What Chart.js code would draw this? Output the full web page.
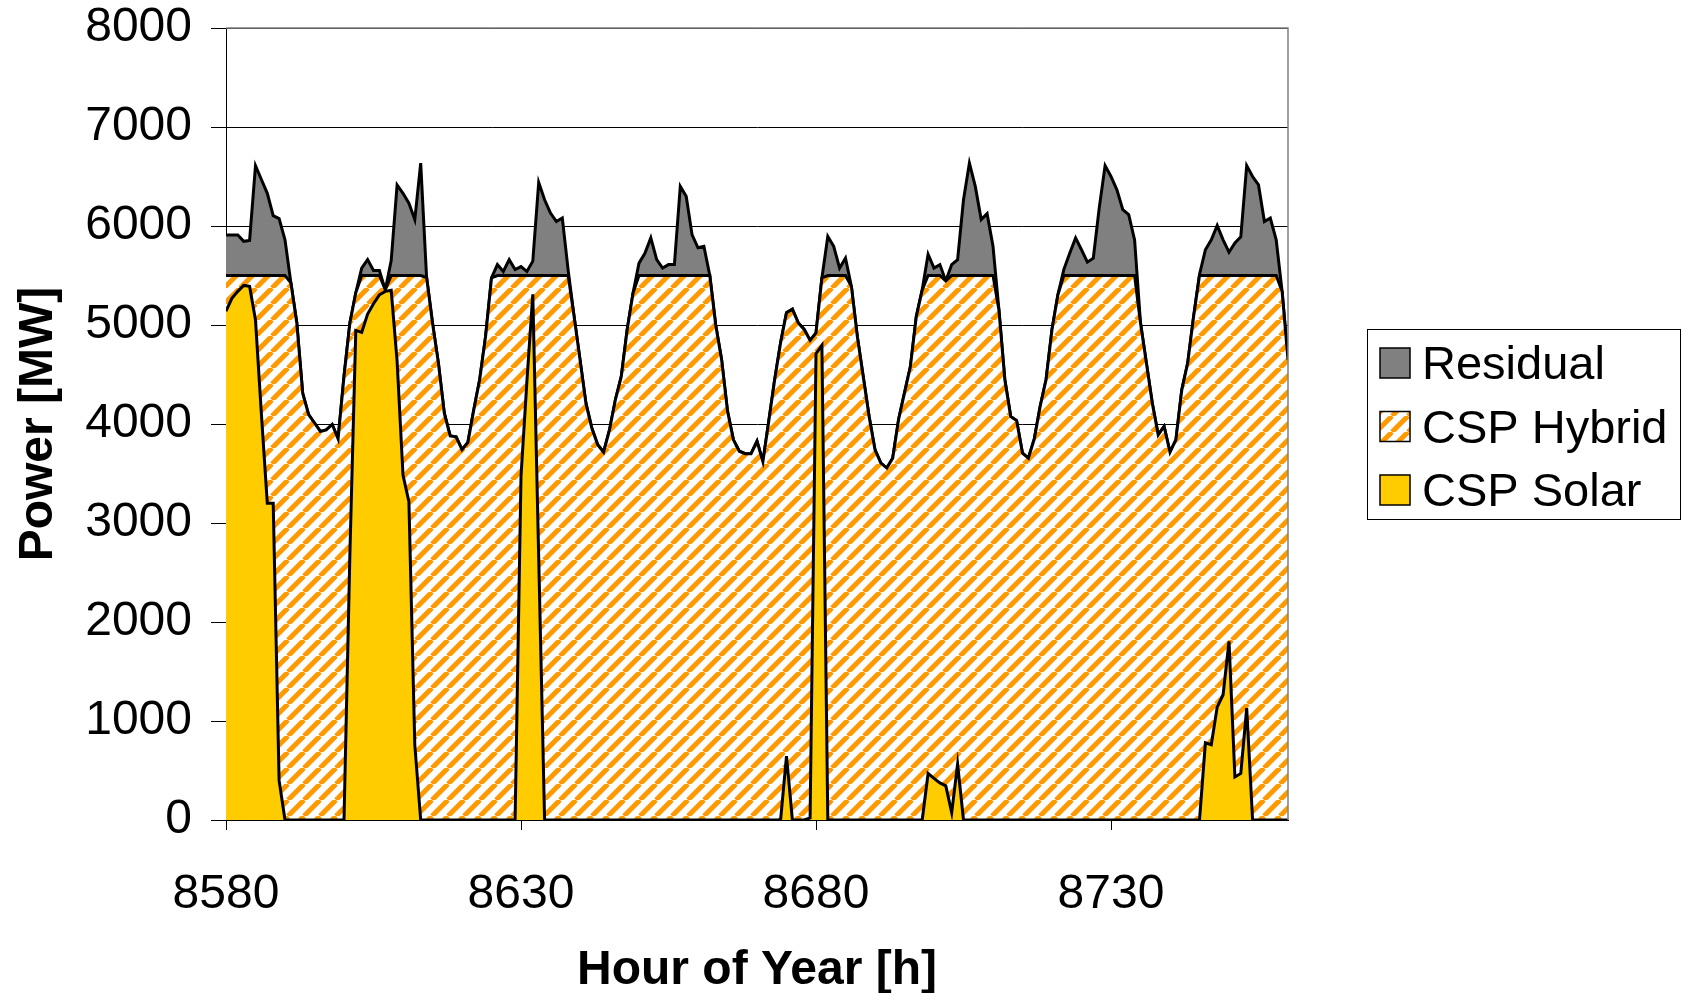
<!DOCTYPE html>
<html>
<head>
<meta charset="utf-8">
<script src="https://cdn.jsdelivr.net/npm/chart.js@4.4.0/dist/chart.umd.min.js"></script>
<style>
  body { margin: 0; background: #fff; }
  canvas { display: block; }
</style>
</head>
<body>
<canvas id="powerChart" width="1686" height="993"></canvas>
<script>
let startHour = 8580
let hours = Array.from({ length: 181 }, (_, i) => startHour + i)
let xTicks = [8580, 8630, 8680, 8730]

// total load (top of grey area), MW
let load = [
    5910, 5910, 5910, 5845, 5855, 6610, 6470, 6330, 6105, 6075,
    5860, 5425, 5020, 4310, 4095, 4010, 3925, 3940, 3995, 3850,
    4480, 5020, 5325, 5575, 5660, 5550, 5550, 5355, 5650, 6415,
    6330, 6230, 6065, 6635, 5480, 5020, 4615, 4110, 3880, 3870,
    3740, 3815, 4145, 4450, 4885, 5475, 5610, 5540, 5660, 5560,
    5590, 5540, 5645, 6440, 6265, 6130, 6045, 6080, 5550, 5085,
    4650, 4210, 3960, 3790, 3715, 3940, 4245, 4480, 4955, 5325,
    5625, 5725, 5880, 5660, 5575, 5610, 5610, 6400, 6300, 5910,
    5780, 5795, 5500, 5000, 4650, 4130, 3840, 3725, 3700, 3700,
    3825, 3620, 4030, 4450, 4820, 5125, 5160, 5020, 4955, 4845,
    4920, 5475, 5895, 5795, 5575, 5675, 5390, 4885, 4480, 4075,
    3740, 3605, 3555, 3655, 4045, 4315, 4580, 5085, 5355, 5715,
    5575, 5610, 5445, 5610, 5660, 6265, 6635, 6400, 6065, 6125,
    5795, 5155, 4450, 4075, 4035, 3705, 3655, 3850, 4180, 4450,
    4955, 5305, 5560, 5725, 5880, 5760, 5635, 5675, 6180, 6610,
    6500, 6365, 6165, 6115, 5860, 5020, 4615, 4210, 3890, 3975,
    3715, 3840, 4345, 4615, 5085, 5510, 5760, 5860, 6005, 5860,
    5735, 5830, 5890, 6610, 6500, 6415, 6045, 6080, 5860, 5340,
    4650
]

// top of the CSP (hatched) area, MW
let cspTop = [
    5500, 5500, 5500, 5500, 5500, 5500, 5500, 5500, 5500, 5500,
    5500, 5425, 5020, 4310, 4095, 4010, 3925, 3940, 3995, 3850,
    4480, 5020, 5325, 5500, 5500, 5500, 5500, 5355, 5500, 5500,
    5500, 5500, 5500, 5500, 5480, 5020, 4615, 4110, 3880, 3870,
    3740, 3815, 4145, 4450, 4885, 5475, 5500, 5500, 5500, 5500,
    5500, 5500, 5500, 5500, 5500, 5500, 5500, 5500, 5500, 5085,
    4650, 4210, 3960, 3790, 3715, 3940, 4245, 4480, 4955, 5325,
    5500, 5500, 5500, 5500, 5500, 5500, 5500, 5500, 5500, 5500,
    5500, 5500, 5500, 5000, 4650, 4130, 3840, 3725, 3700, 3700,
    3825, 3620, 4030, 4450, 4820, 5125, 5160, 5020, 4955, 4845,
    4920, 5475, 5500, 5500, 5500, 5500, 5390, 4885, 4480, 4075,
    3740, 3605, 3555, 3655, 4045, 4315, 4580, 5085, 5355, 5500,
    5500, 5500, 5445, 5500, 5500, 5500, 5500, 5500, 5500, 5500,
    5500, 5155, 4450, 4075, 4035, 3705, 3655, 3850, 4180, 4450,
    4955, 5305, 5500, 5500, 5500, 5500, 5500, 5500, 5500, 5500,
    5500, 5500, 5500, 5500, 5500, 5020, 4615, 4210, 3890, 3975,
    3715, 3840, 4345, 4615, 5085, 5500, 5500, 5500, 5500, 5500,
    5500, 5500, 5500, 5500, 5500, 5500, 5500, 5500, 5500, 5340,
    4650
]

// CSP solar part, MW
let solar = [
    5140, 5270, 5340, 5400, 5390, 5050, 4100, 3200, 3200, 400,
    0, 0, 0, 0, 0, 0, 0, 0, 0, 0,
    0, 2690, 4945, 4925, 5110, 5215, 5305, 5340, 5350, 4635,
    3485, 3215, 760, 0, 0, 0, 0, 0, 0, 0,
    0, 0, 0, 0, 0, 0, 0, 0, 0, 0,
    3470, 4430, 5310, 2650, 0, 0, 0, 0, 0, 0,
    0, 0, 0, 0, 0, 0, 0, 0, 0, 0,
    0, 0, 0, 0, 0, 0, 0, 0, 0, 0,
    0, 0, 0, 0, 0, 0, 0, 0, 0, 0,
    0, 0, 0, 0, 0, 645, 0, 0, 0, 20,
    4710, 4795, 0, 0, 0, 0, 0, 0, 0, 0,
    0, 0, 0, 0, 0, 0, 0, 0, 0, 470,
    420, 375, 345, 75, 565, 0, 0, 0, 0, 0,
    0, 0, 0, 0, 0, 0, 0, 0, 0, 0,
    0, 0, 0, 0, 0, 0, 0, 0, 0, 0,
    0, 0, 0, 0, 0, 0, 0, 0, 0, 0,
    0, 0, 0, 0, 0, 0, 780, 760, 1140, 1265,
    1805, 435, 470, 1130, 0, 0, 0, 0, 0, 0,
    0
]

let font = "'Liberation Sans', Arial, sans-serif"

//hatchPattern
let makeHatch = () => {
    let size = 16
    let c = document.createElement("canvas")
    c.width = size
    c.height = size
    let g = c.getContext("2d")
    g.fillStyle = "#fff"
    g.fillRect(0, 0, size, size)
    g.strokeStyle = "#FF9900"
    g.lineWidth = 5
    for (let off = -size; off <= size; off += size) {
        g.beginPath()
        g.moveTo(off, size)
        g.lineTo(off + size, 0)
        g.stroke()
    }
    return g.createPattern(c, "repeat")
}
let hatch = makeHatch()

let frameAndLegend = {
    id: "frameAndLegend",
    afterDraw(chart) {
        let ctx = chart.ctx
        let area = chart.chartArea
        ctx.save()
        // plot frame top/right
        ctx.strokeStyle = "#808080"
        ctx.lineWidth = 1.5
        ctx.beginPath()
        ctx.moveTo(area.left, area.top)
        ctx.lineTo(area.right, area.top)
        ctx.lineTo(area.right, area.bottom)
        ctx.stroke()
        // legend
        ctx.strokeStyle = "#000"
        ctx.lineWidth = 1
        ctx.strokeRect(1367.5, 329.5, 313, 190)
        let order = [2, 1, 0]
        ctx.font = "47px " + font
        ctx.textBaseline = "alphabetic"
        ctx.textAlign = "left"
        order.forEach((idx, i) => {
            let ds = chart.data.datasets[idx]
            let top = 348 + i * 63.5
            ctx.fillStyle = ds.backgroundColor
            ctx.fillRect(1380, top, 30, 30)
            ctx.strokeStyle = "#000"
            ctx.lineWidth = 1.5
            ctx.strokeRect(1380, top, 30, 30)
            ctx.fillStyle = "#000"
            ctx.fillText(ds.label, 1422, top + 31)
        })
        ctx.restore()
    }
}

let lineStyle = {
    borderColor: "#000",
    borderWidth: 3,
    pointRadius: 0,
    tension: 0
}

// no label overflow padding, the plot box is fixed
let noOverflow = (scale) => {
    scale.paddingTop = 0
    scale.paddingBottom = 0
    scale.paddingLeft = 0
    scale.paddingRight = 0
}

new Chart("powerChart", {
    type: "line",
    data: {
        labels: hours,
        datasets: [
            { ...lineStyle, label: "CSP Solar", data: solar, fill: "origin", backgroundColor: "#FFCC00" },
            { ...lineStyle, label: "CSP Hybrid", data: cspTop, fill: "-1", backgroundColor: hatch },
            { ...lineStyle, label: "Residual", data: load, fill: "-1", backgroundColor: "#808080" }
        ]
    },
    options: {
        responsive: false,
        devicePixelRatio: 1,
        animation: false,
        layout: { autoPadding: false, padding: { top: 28, right: 398, left: 0, bottom: 0 } },
        plugins: {
            legend: { display: false },
            tooltip: { enabled: false }
        },
        scales: {
            x: {
                type: "linear",
                min: 8580,
                max: 8760,
                afterBuildTicks: (scale) => {
                    scale.ticks = xTicks.map(v => ({ value: v }))
                },
                afterFit: (scale) => {
                    scale.height = 173
                    noOverflow(scale)
                },
                ticks: {
                    color: "#000",
                    font: { family: font, size: 48 },
                    padding: 36,
                    maxRotation: 0,
                    callback: (v) => String(v)
                },
                grid: { drawOnChartArea: false, drawTicks: true, tickLength: 10, color: "#000" },
                border: { display: true, color: "#000", width: 1 },
                title: {
                    display: true,
                    text: "Hour of Year [h]",
                    color: "#000",
                    font: { family: font, size: 48, weight: "bold", lineHeight: 1 },
                    padding: { top: 0, bottom: -2 }
                }
            },
            y: {
                min: 0,
                max: 8000,
                afterFit: (scale) => {
                    scale.width = 226
                    noOverflow(scale)
                },
                ticks: {
                    stepSize: 1000,
                    color: "#000",
                    font: { family: font, size: 48 },
                    padding: 19,
                    callback: (v) => String(v)
                },
                grid: { color: "#000", lineWidth: 1, drawTicks: true, tickLength: 15 },
                border: { display: true, color: "#000", width: 1 },
                title: {
                    display: true,
                    text: "Power [MW]",
                    color: "#000",
                    font: { family: font, size: 48, weight: "bold", lineHeight: 1 },
                    padding: { top: 15, bottom: 0 }
                }
            }
        }
    },
    plugins: [frameAndLegend]
})
</script>
</body>
</html>
